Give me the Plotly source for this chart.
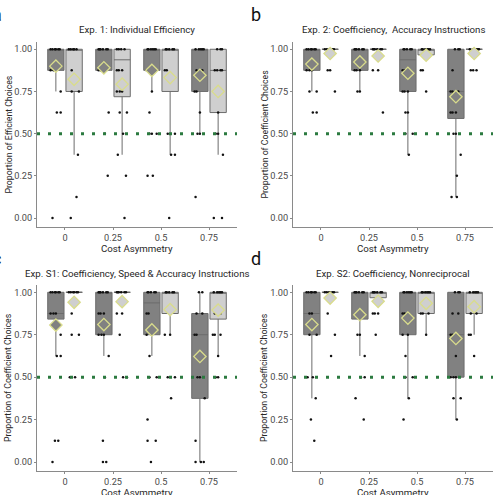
import plotly.graph_objects as go

W, H = 496, 495
FONT = "Roboto, Liberation Sans, sans-serif"

CATS = ["0", "0.25", "0.5", "0.75"]
Y_TICKS = [0, 0.25, 0.5, 0.75, 1.0]
Y_TICK_TEXT = ["0.00", "0.25", "0.50", "0.75", "1.00"]
LETTERS = ["a", "b", "c", "d"]
TITLES = ["Exp. 1: Individual Efficiency",
          "Exp. 2: Coefficiency,  Accuracy Instructions",
          "Exp. S1: Coefficiency, Speed & Accuracy Instructions",
          "Exp. S2: Coefficiency, Nonreciprocal"]
Y_TITLES = ["Proportion of Efficient Choices",
            "Proportion of Coefficient Choices",
            "Proportion of Coefficient Choices",
            "Proportion of Coefficient Choices"]
X_TITLE = "Cost Asymmetry"
REF_LINE = 0.5

# ---------- Panel a ----------
a_dark_q1 = [0.875, 0.875, 0.875, 0.75]
a_dark_med = [1.0, 1.0, 1.0, 1.0]
a_dark_q3 = [1.0, 1.0, 1.0, 1.0]
a_dark_lo = [0.75, 0.875, 0.75, 0.5]
a_dark_hi = [1.0, 1.0, 1.0, 1.0]
a_dark_mean = [0.90, 0.89, 0.875, 0.846]
a_light_q1 = [0.75, 0.71875, 0.75, 0.625]
a_light_med = [1.0, 0.9375, 1.0, 0.875]
a_light_q3 = [1.0, 1.0, 1.0, 1.0]
a_light_lo = [0.375, 0.375, 0.375, 0.375]
a_light_hi = [1.0, 1.0, 1.0, 1.0]
a_light_mean = [0.822, 0.793, 0.832, 0.75]
a_dark_pts = [
    [1, 1, 1, 1, 1, 1, 0.875, 0.875, 0.875, 0.75, 0.625, 0.625, 0],
    [1, 1, 1, 1, 1, 1, 0.875, 0.875, 0.875, 0.875, 0.625, 0.5, 0.25],
    [1, 1, 1, 1, 1, 1, 0.875, 0.75, 0.625, 0.5, 0.5, 0.5, 0.25, 0.25],
    [1, 1, 1, 1, 1, 0.875, 0.875, 0.75, 0.75, 0.625, 0.5, 0.5, 0.125],
]
a_light_pts = [
    [1, 1, 1, 1, 1, 0.875, 0.75, 0.75, 0.375, 0.125, 0],
    [1, 1, 1, 1, 0.875, 0.875, 0.875, 0.75, 0.75, 0.75, 0.625, 0.625, 0.5, 0.375, 0.25, 0],
    [1, 1, 1, 1, 1, 0.875, 0.875, 0.5, 0.5, 0.375, 0.375, 0],
    [1, 1, 1, 0.875, 0.875, 0.875, 0.875, 0.625, 0.5, 0.5, 0.375, 0, 0],
]

# ---------- Panel b ----------
b_dark_q1 = [0.875, 0.875, 0.75, 0.59]
b_dark_med = [1.0, 1.0, 0.9375, 0.75]
b_dark_q3 = [1.0, 1.0, 1.0, 1.0]
b_dark_lo = [0.75, 0.75, 0.375, 0.125]
b_dark_hi = [1.0, 1.0, 1.0, 1.0]
b_dark_mean = [0.912, 0.925, 0.858, 0.719]
b_light_q1 = [1.0, 1.0, 0.967, 1.0]
b_light_med = [1.0, 1.0, 1.0, 1.0]
b_light_q3 = [1.0, 1.0, 1.0, 1.0]
b_light_lo = [1.0, 1.0, 0.967, 1.0]
b_light_hi = [1.0, 1.0, 1.0, 1.0]
b_light_mean = [0.975, 0.96, 0.965, 0.975]
b_dark_pts = [
    [1, 1, 1, 1, 1, 1, 0.875, 0.875, 0.875, 0.75, 0.75, 0.625, 0.625],
    [1, 1, 1, 1, 1, 1, 0.875, 0.875, 0.875, 0.75, 0.75],
    [1, 1, 1, 1, 1, 0.875, 0.875, 0.75, 0.75, 0.75, 0.625, 0.625, 0.5, 0.5, 0.375],
    [1, 1, 1, 0.875, 0.75, 0.75, 0.75, 0.625, 0.625, 0.625, 0.5, 0.5, 0.375, 0.25, 0.125, 0.125],
]
b_light_pts = [
    [1, 1, 1, 1, 1, 1, 0.875, 0.875, 0.75],
    [1, 1, 1, 1, 1, 1, 0.875, 0.875, 0.625],
    [1, 1, 1, 1, 1, 1, 0.875, 0.875, 0.75],
    [1, 1, 1, 1, 1, 1, 0.875, 0.875, 0.875],
]

# ---------- Panel c ----------
c_dark_q1 = [0.842, 0.75, 0.75, 0.375]
c_dark_med = [0.875, 1.0, 0.9375, 0.75]
c_dark_q3 = [1.0, 1.0, 1.0, 0.875]
c_dark_lo = [0.625, 0.625, 0.625, 0.0]
c_dark_hi = [1.0, 1.0, 1.0, 1.0]
c_dark_mean = [0.807, 0.81, 0.778, 0.622]
c_light_q1 = [1.0, 1.0, 0.875, 0.842]
c_light_med = [1.0, 1.0, 1.0, 1.0]
c_light_q3 = [1.0, 1.0, 1.0, 1.0]
c_light_lo = [1.0, 1.0, 0.75, 0.625]
c_light_hi = [1.0, 1.0, 1.0, 1.0]
c_light_mean = [0.941, 0.945, 0.898, 0.895]
c_dark_pts = [
    [1, 1, 1, 1, 1, 1, 0.875, 0.875, 0.875, 0.75, 0.625, 0.625, 0.125, 0.125, 0],
    [1, 1, 1, 1, 1, 1, 0.875, 0.875, 0.875, 0.75, 0.75, 0.75, 0.625, 0.5, 0.125, 0, 0],
    [1, 1, 1, 1, 1, 0.875, 0.875, 0.75, 0.75, 0.625, 0.5, 0.5, 0.25, 0.125, 0.125, 0],
    [1, 1, 0.875, 0.875, 0.75, 0.75, 0.625, 0.5, 0.5, 0.375, 0.125, 0, 0, 0],
]
c_light_pts = [
    [1, 1, 1, 1, 1, 1, 0.875, 0.75, 0.75, 0.5, 0.5],
    [1, 1, 1, 1, 1, 1, 0.875, 0.875, 0.75, 0.5, 0.5],
    [1, 1, 1, 1, 1, 0.75, 0.75, 0.5, 0.5, 0.375],
    [1, 1, 1, 1, 1, 0.875, 0.875, 0.75, 0.75, 0.75, 0.625, 0.5, 0.5],
]

# ---------- Panel d ----------
d_dark_q1 = [0.75, 0.842, 0.75, 0.5]
d_dark_med = [0.875, 1.0, 1.0, 0.75]
d_dark_q3 = [1.0, 1.0, 1.0, 1.0]
d_dark_lo = [0.375, 0.625, 0.375, 0.25]
d_dark_hi = [1.0, 1.0, 1.0, 1.0]
d_dark_mean = [0.81, 0.868, 0.848, 0.728]
d_light_q1 = [1.0, 0.968, 0.875, 0.875]
d_light_med = [1.0, 1.0, 1.0, 1.0]
d_light_q3 = [1.0, 1.0, 1.0, 1.0]
d_light_lo = [1.0, 0.968, 0.75, 0.75]
d_light_hi = [1.0, 1.0, 1.0, 1.0]
d_light_mean = [0.966, 0.947, 0.935, 0.915]
d_dark_pts = [
    [1, 1, 1, 1, 1, 1, 0.875, 0.875, 0.75, 0.75, 0.5, 0.5, 0.375, 0.25, 0.125],
    [1, 1, 1, 1, 1, 1, 0.875, 0.75, 0.75, 0.625, 0.5, 0.5, 0.375, 0.25],
    [1, 1, 1, 1, 1, 1, 0.875, 0.875, 0.75, 0.75, 0.625, 0.5, 0.5, 0.375, 0.25],
    [1, 1, 1, 0.875, 0.875, 0.75, 0.75, 0.625, 0.5, 0.5, 0.5, 0.375, 0.375, 0.25],
]
d_light_pts = [
    [1, 1, 1, 1, 1, 1, 0.875, 0.75, 0.625],
    [1, 1, 1, 1, 1, 1, 0.875, 0.875, 0.875, 0.75],
    [1, 1, 1, 1, 1, 1, 0.875, 0.875, 0.875, 0.75],
    [1, 1, 1, 1, 1, 0.875, 0.875, 0.75, 0.75, 0.625],
]

PANELS = [
    dict(dark=(a_dark_q1, a_dark_med, a_dark_q3, a_dark_lo, a_dark_hi, a_dark_mean, a_dark_pts),
         light=(a_light_q1, a_light_med, a_light_q3, a_light_lo, a_light_hi, a_light_mean, a_light_pts)),
    dict(dark=(b_dark_q1, b_dark_med, b_dark_q3, b_dark_lo, b_dark_hi, b_dark_mean, b_dark_pts),
         light=(b_light_q1, b_light_med, b_light_q3, b_light_lo, b_light_hi, b_light_mean, b_light_pts)),
    dict(dark=(c_dark_q1, c_dark_med, c_dark_q3, c_dark_lo, c_dark_hi, c_dark_mean, c_dark_pts),
         light=(c_light_q1, c_light_med, c_light_q3, c_light_lo, c_light_hi, c_light_mean, c_light_pts)),
    dict(dark=(d_dark_q1, d_dark_med, d_dark_q3, d_dark_lo, d_dark_hi, d_dark_mean, d_dark_pts),
         light=(d_light_q1, d_light_med, d_light_q3, d_light_lo, d_light_hi, d_light_mean, d_light_pts)),
]

# ---------- layout geometry (pixels) ----------
PLOT_X = [(37, 237), (293, 493), (37, 237), (293, 493)]
PLOT_Y = [(42, 227), (42, 227), (285, 471), (285, 471)]
LETTER_X = [-10, 249, -10, 249]
GROUP_STYLE = {
    "dark": dict(off=-0.19, fill="#818181"),
    "light": dict(off=0.19, fill="#cfcfcf"),
}
BOX_W = 0.34
LINE_COL = "#6c6c6c"
AXIS_COL = "#8a8a8a"
MEAN_LINE = "#d9dc8c"
GREEN = "#2b7a3f"
JIT = [-0.07, 0.05, -0.02, 0.08, -0.09, 0.02, 0.10, -0.05, 0.0, -0.11]


def px_x(p):
    return p / W


def px_y(p):
    return 1 - p / H


fig = go.Figure()
annotations = []
shapes = []

for i, panel in enumerate(PANELS):
    sfx = "" if i == 0 else str(i + 1)
    xa, ya = "x" + sfx, "y" + sfx
    for g in ("dark", "light"):
        q1, med, q3, lo, hi, mean, pts = panel[g]
        st = GROUP_STYLE[g]
        pos = [k + st["off"] for k in range(len(CATS))]
        fig.add_trace(go.Box(
            x=pos, q1=q1, median=med, q3=q3, lowerfence=lo, upperfence=hi,
            orientation="v", width=BOX_W, fillcolor=st["fill"],
            line=dict(color=LINE_COL, width=1), whiskerwidth=0,
            boxpoints=False, showlegend=False, hoverinfo="skip",
            xaxis=xa, yaxis=ya))
    for g in ("dark", "light"):
        q1, med, q3, lo, hi, mean, pts = panel[g]
        st = GROUP_STYLE[g]
        px_, py_ = [], []
        for k, vals in enumerate(pts):
            seen = {}
            for v in vals:
                n = seen.get(v, 0)
                seen[v] = n + 1
                j = JIT[(n + int(v * 8) + k) % len(JIT)]
                px_.append(k + st["off"] + j)
                py_.append(v)
        fig.add_trace(go.Scatter(
            x=px_, y=py_, mode="markers",
            marker=dict(size=2.5, color="#111111"),
            showlegend=False, hoverinfo="skip", xaxis=xa, yaxis=ya))
    for g in ("dark", "light"):
        q1, med, q3, lo, hi, mean, pts = panel[g]
        st = GROUP_STYLE[g]
        pos = [k + st["off"] for k in range(len(CATS))]
        fig.add_trace(go.Scatter(
            x=pos, y=mean, mode="markers",
            marker=dict(symbol="diamond", size=9.5, color=st["fill"],
                        line=dict(color=MEAN_LINE, width=1.3)),
            showlegend=False, hoverinfo="skip", xaxis=xa, yaxis=ya))

    (x0, x1), (y0, y1) = PLOT_X[i], PLOT_Y[i]
    axis_common = dict(showline=True, linecolor=AXIS_COL, linewidth=1,
                       ticks="outside", ticklen=2, tickcolor=AXIS_COL,
                       showgrid=False, zeroline=False,
                       tickfont=dict(size=9.2, color="#4a4a4a", family=FONT))
    fig.layout["xaxis" + sfx] = dict(
        domain=[px_x(x0), px_x(x1)], range=[-0.583, 3.583],
        tickvals=list(range(len(CATS))), ticktext=CATS,
        anchor=ya, **axis_common)
    fig.layout["yaxis" + sfx] = dict(
        domain=[px_y(y1), px_y(y0)], range=[-0.053, 1.043],
        tickvals=Y_TICKS, ticktext=Y_TICK_TEXT, anchor=xa, **axis_common)

    shapes.append(dict(type="line", xref=xa + " domain", yref=ya,
                       x0=0, x1=1, y0=REF_LINE, y1=REF_LINE, layer="above",
                       line=dict(color=GREEN, width=3, dash="3px,8px")))

    cx = (x0 + x1) / 2
    annotations.append(dict(text=TITLES[i], x=px_x(cx), y=px_y(y0 - 12),
                            xref="paper", yref="paper", showarrow=False,
                            xanchor="center", yanchor="middle",
                            font=dict(size=9.7, color="#262626", family=FONT)))
    annotations.append(dict(text=X_TITLE, x=px_x(cx), y=px_y(y1 + 21),
                            xref="paper", yref="paper", showarrow=False,
                            xanchor="center", yanchor="middle",
                            font=dict(size=9.7, color="#262626", family=FONT)))
    annotations.append(dict(text=Y_TITLES[i], x=px_x(x0 - 29), y=px_y((y0 + y1) / 2),
                            xref="paper", yref="paper", showarrow=False,
                            textangle=-90, xanchor="center", yanchor="middle",
                            font=dict(size=8.7, color="#262626", family=FONT)))
    annotations.append(dict(text=LETTERS[i], x=px_x(LETTER_X[i]), y=px_y(y0 - 27),
                            xref="paper", yref="paper", showarrow=False,
                            xanchor="left", yanchor="middle",
                            font=dict(size=18, color="#111111", family=FONT)))

fig.update_layout(
    width=W, height=H, margin=dict(l=0, r=0, t=0, b=0),
    paper_bgcolor="white", plot_bgcolor="white",
    annotations=annotations, shapes=shapes,
    font=dict(family=FONT),
)

fig.write_html("out.html")
